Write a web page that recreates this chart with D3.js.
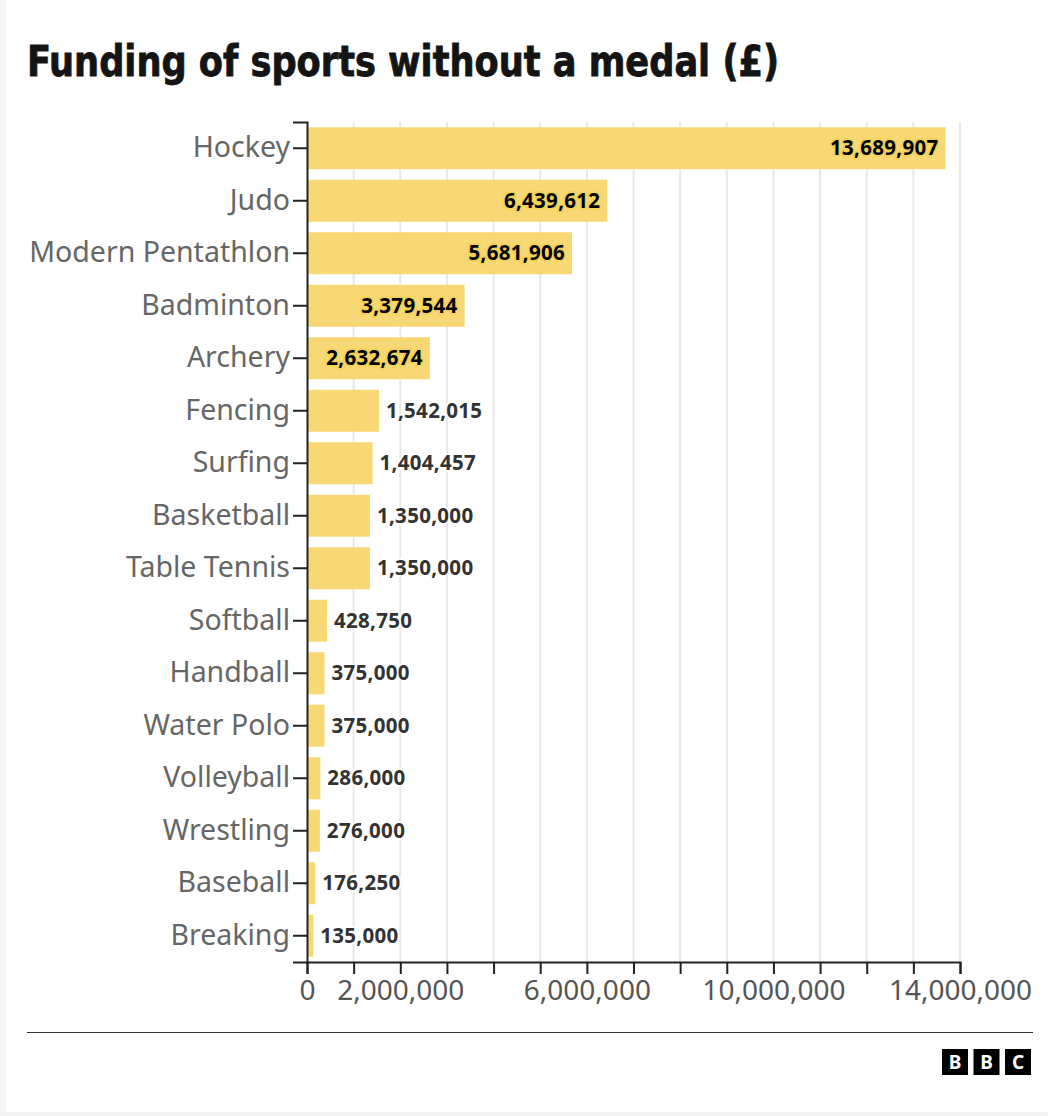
<!DOCTYPE html>
<html>
<head>
<meta charset="utf-8">
<script src="https://cdn.jsdelivr.net/npm/d3@7"></script>
<style>
  html, body { margin: 0; padding: 0; background: #f5f5f5; }
  svg { display: block; }
</style>
</head>
<body>
<svg id="chart" width="1048" height="1116"></svg>
<script>
const categories = ["Hockey","Judo","Modern Pentathlon","Badminton","Archery","Fencing","Surfing","Basketball","Table Tennis","Softball","Handball","Water Polo","Volleyball","Wrestling","Baseball","Breaking"];
const values = [13689907, 6439612, 5681906, 3379544, 2632674, 1542015, 1404457, 1350000, 1350000, 428750, 375000, 375000, 286000, 276000, 176250, 135000];
const tickValues = [0,1e6,2e6,3e6,4e6,5e6,6e6,7e6,8e6,9e6,10e6,11e6,12e6,13e6,14e6];
const tickLabelValues = [0, 2e6, 6e6, 10e6, 14e6];
const title = "Funding of sports without a medal (£)";

const svg = d3.select("#chart");
const W = 1048, H = 1116;
svg.append("rect").attr("x", 6).attr("y", 0).attr("width", W - 6).attr("height", H - 4).attr("fill", "#fff");

const fmt = d3.format(",");
const x = d3.scaleLinear().domain([0, 14e6]).range([307, 960]);
const y = d3.scaleBand().domain(categories).range([122, 962]).paddingInner(0.2).paddingOuter(0.1);

// title
svg.append("text")
  .attr("x", 27).attr("y", 76)
  .attr("font-family", "'DejaVu Sans Condensed', 'Noto Sans', sans-serif")
  .attr("font-weight", 700)
  .attr("font-size", 42)
  .attr("fill", "#141414")
  .attr("stroke", "#141414").attr("stroke-width", 0.8)
  .attr("textLength", 752)
  .attr("lengthAdjust", "spacingAndGlyphs")
  .text(title);

// gridlines
svg.append("g").selectAll("line").data(tickValues.slice(1)).join("line")
  .attr("x1", d => x(d)).attr("x2", d => x(d))
  .attr("y1", 122).attr("y2", 962)
  .attr("stroke", "#e8e8e8").attr("stroke-width", 2);

// bars
svg.append("g").selectAll("rect").data(categories).join("rect")
  .attr("x", x(0))
  .attr("y", d => y(d))
  .attr("width", (d, i) => x(values[i]) - x(0))
  .attr("height", y.bandwidth())
  .attr("fill", "#f7d874");

// x axis
const xAxis = d3.axisBottom(x).tickValues(tickValues).tickSize(12).tickPadding(6)
  .tickFormat(d => tickLabelValues.includes(d) ? fmt(d) : "");
const gx = svg.append("g").attr("transform", "translate(0,962)").call(xAxis);
gx.select(".domain").attr("stroke", "#222").attr("stroke-width", 2);
gx.selectAll(".tick line").attr("stroke", "#222").attr("stroke-width", 2);
gx.selectAll(".tick text")
  .attr("font-family", "'Noto Sans', sans-serif")
  .attr("font-size", 28)
  .attr("fill", "#555");

// y axis
const yAxis = d3.axisLeft(y).tickSize(14).tickPadding(3);
const gy = svg.append("g").attr("transform", "translate(307,0)").call(yAxis);
gy.select(".domain").attr("stroke", "#222").attr("stroke-width", 2);
gy.selectAll(".tick line").attr("stroke", "#222").attr("stroke-width", 2);
gy.selectAll(".tick text")
  .attr("font-family", "'Noto Sans', sans-serif")
  .attr("font-size", 28.5)
  .attr("fill", "#666");

// value labels
const lbl = svg.append("g").selectAll("text").data(categories).join("text")
  .attr("y", d => y(d) + y.bandwidth() / 2)
  .attr("dy", "0.35em")
  .attr("font-family", "'Noto Sans', sans-serif")
  .attr("font-weight", 700)
  .attr("font-size", 20.5)
  .attr("letter-spacing", 0.3)
  .text((d, i) => fmt(values[i]));
lbl.each(function(d, i) {
  const inside = values[i] > 2e6;
  const t = d3.select(this);
  if (inside) {
    t.attr("x", x(values[i]) - 7).attr("text-anchor", "end")
     .attr("fill", "#000")
     .attr("stroke", "#f3d35a").attr("stroke-width", 4)
     .attr("paint-order", "stroke").attr("stroke-linejoin", "round");
  } else {
    t.attr("x", x(values[i]) + 7).attr("text-anchor", "start")
     .attr("fill", "#333")
     .attr("stroke", "#fff").attr("stroke-width", 3)
     .attr("paint-order", "stroke").attr("stroke-linejoin", "round");
  }
});

// footer line
svg.append("line").attr("x1", 27).attr("x2", 1033).attr("y1", 1032.5).attr("y2", 1032.5)
  .attr("stroke", "#333").attr("stroke-width", 1);

// BBC logo
const logo = ["B","B","C"];
const lg = svg.append("g").selectAll("g").data(logo).join("g")
  .attr("transform", (d, i) => `translate(${942 + i * 31.5},1049)`);
lg.append("rect").attr("width", 26).attr("height", 26).attr("fill", "#000");
lg.append("text").attr("x", 13).attr("y", 13).attr("dy", "0.36em")
  .attr("text-anchor", "middle")
  .attr("font-family", "'Noto Sans', sans-serif").attr("font-weight", 700)
  .attr("font-size", 19).attr("fill", "#fff").text(d => d);
</script>
</body>
</html>
